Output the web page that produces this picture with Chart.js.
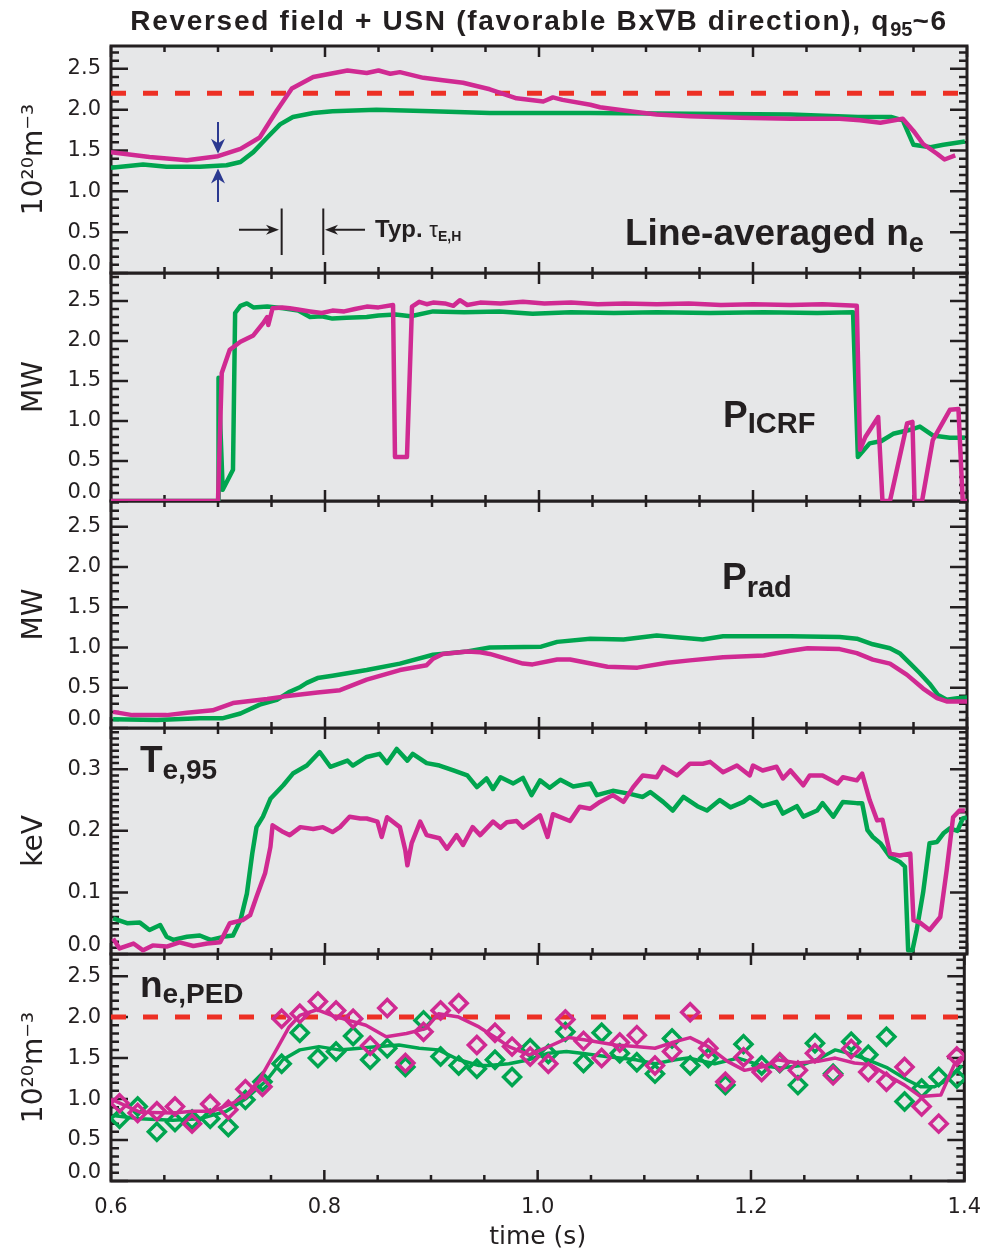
<!DOCTYPE html>
<html>
<head>
<meta charset="utf-8">
<script src="https://cdn.jsdelivr.net/npm/chart.js@4.4.1/dist/chart.umd.min.js"></script>
<style>
  body { margin: 0; background: #fff; }
  #fig { position: relative; width: 995px; height: 1252px; overflow: hidden;
         font-family: 'Liberation Sans', Arial, sans-serif; color: #231f20; }
  #fig canvas { position: absolute; left: 0; }
  .lbl { position: absolute; z-index: 20; font-weight: bold; line-height: 1; white-space: nowrap; }
</style>
</head>
<body>
<div id="fig">
  <div class="lbl" style="left:111px;width:856px;text-align:center;top:7px;font-size:28px;letter-spacing:1.7px">Reversed field + USN (favorable Bx&#8711;B direction), q<sub style="font-size:20px;vertical-align:-6px;letter-spacing:0">95</sub>~6</div>
  <div class="lbl" style="left:625px;top:214px;font-size:37px">Line-averaged n<sub style="font-size:27px;vertical-align:-7px">e</sub></div>
  <div class="lbl" style="left:375px;top:217px;font-size:24px">Typ.&nbsp;<span style="font-weight:normal;font-size:22px">&tau;</span><sub style="font-size:14px;vertical-align:-4px">E,H</sub></div>
  <div class="lbl" style="left:723px;top:396px;font-size:37px">P<sub style="font-size:29px;vertical-align:-6px">ICRF</sub></div>
  <div class="lbl" style="left:722px;top:558px;font-size:37px">P<sub style="font-size:29px;vertical-align:-8px">rad</sub></div>
  <div class="lbl" style="left:140px;top:741px;font-size:37px">T<sub style="font-size:28px;vertical-align:-7px">e,95</sub></div>
  <div class="lbl" style="left:140px;top:966px;font-size:37px">n<sub style="font-size:28px;vertical-align:-6px">e,PED</sub></div>
</div>
<script>
// line-averaged density (1e20 m^-3)
const neTimeGreen = [0.600, 0.630, 0.652, 0.683, 0.708, 0.721, 0.733, 0.746, 0.758, 0.770, 0.789, 0.807, 0.848,
  0.900, 0.954, 1.048, 1.141, 1.235, 1.298, 1.329, 1.340, 1.350, 1.366, 1.378, 1.398];
const neGreen = [1.29, 1.33, 1.30, 1.30, 1.32, 1.36, 1.48, 1.66, 1.82, 1.91, 1.96, 1.98, 2.00,
  1.98, 1.96, 1.96, 1.95, 1.94, 1.91, 1.91, 1.87, 1.57, 1.54, 1.57, 1.61];
const neTimeMagenta = [0.600, 0.636, 0.671, 0.700, 0.721, 0.739, 0.755, 0.769, 0.789, 0.821,
  0.839, 0.850, 0.861, 0.870, 0.892, 0.910, 0.929, 0.954, 0.979, 1.004,
  1.013, 1.022, 1.048, 1.057, 1.085, 1.110, 1.141, 1.188, 1.235, 1.281,
  1.300, 1.319, 1.340, 1.350, 1.359, 1.372, 1.379, 1.389];
const neMagenta = [1.48, 1.42, 1.38, 1.43, 1.52, 1.66, 1.99, 2.26, 2.40, 2.48,
  2.45, 2.48, 2.44, 2.46, 2.39, 2.36, 2.33, 2.25, 2.14, 2.10,
  2.15, 2.12, 2.06, 2.03, 1.98, 1.94, 1.92, 1.90, 1.89, 1.89,
  1.87, 1.84, 1.89, 1.74, 1.58, 1.46, 1.39, 1.44];
const neLimit = 2.2;

// ICRF power (MW)
const icrfTimeGreen = [0.600, 0.700, 0.7005, 0.7044, 0.714, 0.716, 0.721, 0.727, 0.733, 0.746,
  0.761, 0.775, 0.786, 0.797, 0.807, 0.820, 0.839, 0.850, 0.866, 0.880,
  0.901, 0.930, 0.963, 0.994, 1.030, 1.070, 1.110, 1.160, 1.210, 1.260,
  1.2935, 1.298, 1.309, 1.320, 1.331, 1.347, 1.356, 1.368, 1.384, 1.398];
const icrfGreen = [0.00, 0.00, 1.54, 0.14, 0.39, 2.35, 2.44, 2.47, 2.42, 2.43,
  2.41, 2.38, 2.30, 2.31, 2.28, 2.29, 2.30, 2.32, 2.33, 2.31,
  2.37, 2.36, 2.37, 2.34, 2.36, 2.35, 2.36, 2.35, 2.36, 2.35,
  2.36, 0.55, 0.72, 0.75, 0.84, 0.89, 0.93, 0.82, 0.79, 0.79];
const icrfTimeMagenta = [0.600, 0.700, 0.7035, 0.711, 0.721, 0.733, 0.742, 0.746, 0.747, 0.751,
  0.760, 0.767, 0.776, 0.786, 0.797, 0.807, 0.818, 0.828, 0.839, 0.850,
  0.8636, 0.8654, 0.8766, 0.8813, 0.888, 0.895, 0.901, 0.912, 0.920, 0.926,
  0.933, 0.945, 0.964, 0.985, 1.005, 1.030, 1.055, 1.080, 1.110, 1.140,
  1.170, 1.200, 1.235, 1.265, 1.297, 1.300, 1.305, 1.317, 1.321, 1.328,
  1.344, 1.349, 1.351, 1.358, 1.368, 1.384, 1.392, 1.396, 1.400];
const icrfMagenta = [0.00, 0.00, 1.60, 1.89, 1.99, 2.07, 2.22, 2.30, 2.20, 2.41,
  2.42, 2.41, 2.39, 2.37, 2.35, 2.38, 2.37, 2.40, 2.43, 2.42,
  2.45, 0.55, 0.55, 2.43, 2.49, 2.46, 2.48, 2.47, 2.44, 2.51,
  2.45, 2.48, 2.47, 2.49, 2.47, 2.48, 2.46, 2.47, 2.46, 2.47,
  2.45, 2.46, 2.45, 2.46, 2.44, 0.64, 0.80, 1.05, 0.00, 0.00,
  0.97, 0.99, 0.00, 0.00, 0.76, 1.14, 1.15, 0.00, 0.00];

// radiated power (MW)
const pradTimeGreen = [0.602, 0.643, 0.683, 0.704, 0.721, 0.739, 0.755, 0.767, 0.777, 0.783,
  0.793, 0.807, 0.839, 0.870, 0.901, 0.933, 0.954, 1.002, 1.017, 1.048,
  1.079, 1.110, 1.153, 1.172, 1.235, 1.281, 1.297, 1.312, 1.328, 1.337,
  1.347, 1.356, 1.365, 1.373, 1.381, 1.391, 1.400];
const pradGreen = [0.11, 0.10, 0.12, 0.12, 0.18, 0.29, 0.35, 0.45, 0.51, 0.56,
  0.62, 0.65, 0.72, 0.80, 0.91, 0.95, 1.00, 1.01, 1.07, 1.11,
  1.10, 1.15, 1.10, 1.14, 1.14, 1.13, 1.11, 1.04, 0.99, 0.93,
  0.80, 0.68, 0.55, 0.41, 0.35, 0.37, 0.38];
const pradTimeMagenta = [0.602, 0.620, 0.652, 0.671, 0.695, 0.714, 0.746, 0.761, 0.793, 0.814,
  0.839, 0.870, 0.895, 0.901, 0.910, 0.933, 0.945, 0.954, 0.985, 0.994,
  1.017, 1.029, 1.064, 1.092, 1.120, 1.141, 1.172, 1.210, 1.235, 1.251,
  1.281, 1.297, 1.312, 1.328, 1.344, 1.359, 1.372, 1.381, 1.400];
const pradMagenta = [0.20, 0.16, 0.16, 0.19, 0.22, 0.31, 0.36, 0.39, 0.44, 0.47,
  0.60, 0.72, 0.78, 0.86, 0.92, 0.95, 0.94, 0.92, 0.80, 0.79,
  0.85, 0.85, 0.76, 0.75, 0.81, 0.84, 0.88, 0.90, 0.96, 0.99,
  0.98, 0.93, 0.85, 0.80, 0.66, 0.49, 0.37, 0.33, 0.33];

// electron temperature at psi_95 (keV)
const teTimeGreen = [0.602, 0.615, 0.627, 0.636, 0.646, 0.652, 0.658, 0.671, 0.683, 0.693,
  0.708, 0.714, 0.721, 0.727, 0.732, 0.736, 0.742, 0.749, 0.761, 0.770,
  0.783, 0.795, 0.805, 0.821, 0.826, 0.839, 0.851, 0.858, 0.867, 0.877,
  0.882, 0.895, 0.907, 0.920, 0.933, 0.942, 0.951, 0.957, 0.964, 0.976,
  0.985, 0.993, 1.001, 1.010, 1.020, 1.032, 1.048, 1.054, 1.069, 1.085,
  1.097, 1.104, 1.116, 1.125, 1.135, 1.148, 1.157, 1.169, 1.179, 1.191,
  1.197, 1.209, 1.222, 1.228, 1.241, 1.247, 1.260, 1.265, 1.275, 1.284,
  1.297, 1.302, 1.307, 1.312, 1.319, 1.328, 1.337, 1.342, 1.345, 1.349,
  1.353, 1.359, 1.365, 1.372, 1.378, 1.384, 1.391, 1.396, 1.400];
const teGreen = [0.058, 0.050, 0.051, 0.039, 0.047, 0.028, 0.023, 0.028, 0.030, 0.023,
  0.029, 0.030, 0.055, 0.098, 0.163, 0.206, 0.223, 0.252, 0.274, 0.293,
  0.306, 0.328, 0.304, 0.314, 0.306, 0.320, 0.325, 0.310, 0.333, 0.314,
  0.325, 0.310, 0.306, 0.298, 0.290, 0.271, 0.285, 0.268, 0.287, 0.277,
  0.286, 0.258, 0.282, 0.270, 0.283, 0.272, 0.277, 0.258, 0.265, 0.260,
  0.255, 0.263, 0.247, 0.233, 0.255, 0.240, 0.233, 0.250, 0.238, 0.247,
  0.255, 0.240, 0.247, 0.228, 0.240, 0.223, 0.233, 0.245, 0.223, 0.247,
  0.245, 0.245, 0.201, 0.190, 0.180, 0.158, 0.150, 0.142, 0.006, 0.006,
  0.039, 0.100, 0.180, 0.182, 0.196, 0.204, 0.200, 0.220, 0.222];
const teTimeMagenta = [0.602, 0.608, 0.621, 0.630, 0.639, 0.652, 0.664, 0.677, 0.690, 0.702,
  0.711, 0.723, 0.730, 0.736, 0.744, 0.749, 0.751, 0.761, 0.767, 0.777,
  0.789, 0.798, 0.807, 0.814, 0.823, 0.833, 0.839, 0.849, 0.853, 0.858,
  0.870, 0.875, 0.877, 0.881, 0.889, 0.895, 0.907, 0.914, 0.923, 0.929,
  0.938, 0.945, 0.957, 0.964, 0.970, 0.979, 0.985, 1.001, 1.008, 1.013,
  1.029, 1.038, 1.048, 1.057, 1.069, 1.079, 1.088, 1.097, 1.110, 1.116,
  1.129, 1.141, 1.153, 1.160, 1.172, 1.185, 1.197, 1.200, 1.209, 1.222,
  1.228, 1.235, 1.247, 1.253, 1.265, 1.279, 1.284, 1.297, 1.302, 1.309,
  1.316, 1.321, 1.328, 1.337, 1.347, 1.350, 1.356, 1.365, 1.375, 1.381,
  1.387, 1.393, 1.398];
const teMagenta = [0.025, 0.009, 0.017, 0.006, 0.014, 0.012, 0.019, 0.013, 0.017, 0.019,
  0.050, 0.055, 0.063, 0.093, 0.131, 0.174, 0.209, 0.198, 0.193, 0.206,
  0.203, 0.206, 0.198, 0.206, 0.223, 0.220, 0.220, 0.215, 0.190, 0.222,
  0.206, 0.169, 0.144, 0.180, 0.215, 0.193, 0.188, 0.171, 0.193, 0.177,
  0.206, 0.193, 0.215, 0.205, 0.214, 0.216, 0.205, 0.225, 0.190, 0.227,
  0.216, 0.239, 0.236, 0.247, 0.258, 0.247, 0.271, 0.290, 0.287, 0.304,
  0.290, 0.309, 0.309, 0.312, 0.295, 0.306, 0.290, 0.306, 0.298, 0.304,
  0.285, 0.298, 0.274, 0.290, 0.290, 0.277, 0.287, 0.282, 0.293, 0.250,
  0.217, 0.218, 0.163, 0.160, 0.163, 0.055, 0.051, 0.039, 0.060, 0.136,
  0.222, 0.233, 0.233];

// pedestal density (1e20 m^-3): Thomson points and smoothed fits
const pedTime = [0.608, 0.625, 0.643, 0.660, 0.676, 0.693, 0.710, 0.726, 0.742, 0.760,
  0.777, 0.794, 0.811, 0.827, 0.843, 0.859, 0.876, 0.893, 0.909, 0.926,
  0.943, 0.960, 0.976, 0.993, 1.010, 1.026, 1.043, 1.060, 1.077, 1.093,
  1.110, 1.126, 1.143, 1.160, 1.176, 1.193, 1.210, 1.227, 1.244, 1.260,
  1.277, 1.294, 1.310, 1.327, 1.344, 1.360, 1.376, 1.393];
const pedGreen = [0.76, 0.91, 0.60, 0.72, 0.75, 0.76, 0.66, 0.99, 1.21, 1.43,
  1.81, 1.50, 1.58, 1.77, 1.48, 1.62, 1.39, 1.96, 1.52, 1.41,
  1.37, 1.48, 1.27, 1.62, 1.55, 1.82, 1.44, 1.81, 1.56, 1.45,
  1.31, 1.74, 1.41, 1.50, 1.17, 1.67, 1.41, 1.44, 1.17, 1.68,
  1.31, 1.70, 1.54, 1.76, 0.97, 1.13, 1.27, 1.25];
const pedMagenta = [0.95, 0.83, 0.85, 0.91, 0.70, 0.94, 0.87, 1.12, 1.15, 1.98,
  2.04, 2.19, 2.08, 1.98, 1.65, 2.11, 1.44, 1.82, 2.08, 2.17,
  1.66, 1.81, 1.64, 1.52, 1.43, 1.97, 1.71, 1.50, 1.69, 1.78,
  1.41, 1.58, 2.06, 1.62, 1.21, 1.51, 1.33, 1.45, 1.35, 1.56,
  1.29, 1.61, 1.33, 1.21, 1.39, 0.91, 0.70, 1.52];
const pedFitTimeGreen = [0.602, 0.627, 0.658, 0.683, 0.708, 0.727, 0.746, 0.761, 0.777, 0.795,
  0.814, 0.833, 0.851, 0.870, 0.889, 0.907, 0.926, 0.945, 0.954, 0.973,
  0.992, 1.010, 1.027, 1.041, 1.064, 1.092, 1.110, 1.129, 1.141, 1.166,
  1.188, 1.209, 1.228, 1.247, 1.265, 1.279, 1.291, 1.309, 1.328, 1.347,
  1.359, 1.372, 1.384, 1.398];
const pedFitGreen = [0.80, 0.76, 0.74, 0.76, 0.85, 1.01, 1.23, 1.48, 1.60, 1.64,
  1.60, 1.62, 1.64, 1.66, 1.62, 1.60, 1.48, 1.41, 1.41, 1.43,
  1.48, 1.56, 1.58, 1.56, 1.52, 1.48, 1.43, 1.48, 1.50, 1.43,
  1.50, 1.41, 1.38, 1.41, 1.50, 1.60, 1.56, 1.48, 1.38, 1.23,
  1.15, 1.15, 1.23, 1.41];
const pedFitTimeMagenta = [0.600, 0.627, 0.658, 0.677, 0.695, 0.714, 0.727, 0.739, 0.755, 0.767,
  0.777, 0.793, 0.807, 0.823, 0.839, 0.858, 0.877, 0.895, 0.907, 0.926,
  0.945, 0.964, 0.973, 0.992, 1.007, 1.029, 1.045, 1.073, 1.092, 1.110,
  1.129, 1.143, 1.160, 1.178, 1.194, 1.213, 1.225, 1.244, 1.263, 1.279,
  1.297, 1.312, 1.328, 1.344, 1.359, 1.378, 1.391, 1.398];
const pedFitMagenta = [1.00, 0.84, 0.83, 0.85, 0.85, 0.95, 1.05, 1.23, 1.60, 1.88,
  2.02, 2.09, 2.02, 1.96, 1.90, 1.76, 1.80, 1.86, 2.04, 2.00,
  1.88, 1.72, 1.64, 1.54, 1.62, 1.75, 1.72, 1.66, 1.64, 1.62,
  1.70, 1.75, 1.64, 1.46, 1.35, 1.40, 1.48, 1.44, 1.46, 1.50,
  1.44, 1.42, 1.29, 1.17, 1.03, 1.05, 1.43, 1.52];
const pedLimit = 2.0;

const GREEN = '#00a54f';
const MAGENTA = '#d02a92';
const RED = '#ed3024';
const BLUE = '#2b3990';
const INK = '#231f20';
const PLOT_BG = '#e6e7e8';
const TICK_FONT = "'DejaVu Sans', sans-serif";
const PAD = 32;

const pts = (t, v) => t.map((x, i) => ({x, y: v[i]}));

function trace(t, v, color, width = 4.5) {
  return {data: pts(t, v), borderColor: color, borderWidth: width, pointRadius: 0, fill: false};
}

function level(value) {
  return {data: [{x: 0.6, y: value}, {x: 1.4, y: value}], borderColor: RED, borderWidth: 5,
    borderDash: [15, 17], pointRadius: 0, fill: false};
}

function diamonds(t, v, color) {
  return {data: pts(t, v), showLine: false, pointStyle: 'rectRot', pointRadius: 8.5,
    pointBorderWidth: 3.5, pointBorderColor: color, pointBackgroundColor: 'rgba(0,0,0,0)',
    borderColor: color};
}

function arrow(ctx, x1, y1, x2, y2, len, half) {
  const a = Math.atan2(y2 - y1, x2 - x1), c = Math.cos(a), s = Math.sin(a);
  ctx.beginPath();
  ctx.moveTo(x1, y1);
  ctx.lineTo(x2 - c * len * 0.6, y2 - s * len * 0.6);
  ctx.stroke();
  ctx.beginPath();
  ctx.moveTo(x2, y2);
  ctx.lineTo(x2 - c * len + s * half, y2 - s * len - c * half);
  ctx.lineTo(x2 - c * len * 0.7, y2 - s * len * 0.7);
  ctx.lineTo(x2 - c * len - s * half, y2 - s * len + c * half);
  ctx.closePath();
  ctx.fill();
}

// grey panel, heavy frame and inward ticks on all four sides
const frameTicks = {
  id: 'frameTicks',
  beforeDraw(chart) {
    const {ctx, chartArea: a} = chart;
    ctx.save();
    ctx.fillStyle = PLOT_BG;
    ctx.fillRect(a.left, a.top, a.width, a.height);
    ctx.restore();
  },
  beforeDatasetsDraw(chart, args, opts) {
    const {ctx, chartArea: a, scales: {x, y}} = chart;
    ctx.save();
    ctx.strokeStyle = INK;
    ctx.lineWidth = 2.5;
    ctx.beginPath();
    for (let i = 0; i <= 16; i++) {
      const px = x.getPixelForValue(0.6 + i * 0.05);
      const len = i % 4 === 0 ? 11 : 6;
      ctx.moveTo(px, a.top); ctx.lineTo(px, a.top + len);
      ctx.moveTo(px, a.bottom); ctx.lineTo(px, a.bottom - len);
    }
    const n = Math.floor(y.max / opts.minor + 1e-6);
    for (let i = 0; i <= n; i++) {
      const v = i * opts.minor;
      const py = y.getPixelForValue(v);
      const r = v / opts.major;
      const len = Math.abs(r - Math.round(r)) < 1e-6 ? 17 : 8;
      ctx.moveTo(a.left, py); ctx.lineTo(a.left + len, py);
      ctx.moveTo(a.right, py); ctx.lineTo(a.right - len, py);
    }
    ctx.stroke();
    ctx.lineWidth = 3;
    ctx.strokeRect(a.left, a.top, a.width, a.height);
    ctx.restore();
  },
  afterDatasetsDraw(chart, args, opts) {
    const m = opts.marks;
    if (!m) return;
    const {ctx, scales: {x, y}} = chart;
    ctx.save();
    // blue arrows pinning the L-mode density gap
    ctx.strokeStyle = BLUE; ctx.fillStyle = BLUE; ctx.lineWidth = 2;
    const bx = x.getPixelForValue(m.gapAt);
    arrow(ctx, bx, y.getPixelForValue(m.gapDown[0]), bx, y.getPixelForValue(m.gapDown[1]), 15, 7);
    arrow(ctx, bx, y.getPixelForValue(m.gapUp[0]), bx, y.getPixelForValue(m.gapUp[1]), 15, 7);
    // confinement-time bracket
    ctx.strokeStyle = INK; ctx.fillStyle = INK; ctx.lineWidth = 2;
    const ay = y.getPixelForValue(m.tauArrowY);
    ctx.beginPath();
    m.tauMarks.forEach(t => {
      const px = x.getPixelForValue(t);
      ctx.moveTo(px, y.getPixelForValue(m.tauSpan[0]));
      ctx.lineTo(px, y.getPixelForValue(m.tauSpan[1]));
    });
    ctx.stroke();
    arrow(ctx, x.getPixelForValue(m.tauRight[0]), ay, x.getPixelForValue(m.tauRight[1]), ay, 13, 5);
    arrow(ctx, x.getPixelForValue(m.tauLeft[0]), ay, x.getPixelForValue(m.tauLeft[1]), ay, 13, 5);
    ctx.restore();
  }
};

function yAxis(max, step, title) {
  return {
    type: 'linear', min: 0, max, bounds: 'data',
    grid: {display: false, drawTicks: false}, border: {display: false},
    ticks: {
      stepSize: step, includeBounds: false, autoSkip: false, padding: 10, color: INK,
      font: c => ({family: TICK_FONT, size: 21, lineHeight: c.tick && c.tick.value === 0 ? 0.76 : 1.2}),
      callback: v => v === 0 ? ['0.0', ''] : v.toFixed(1)
    },
    title: {display: true, text: title, color: INK, font: {family: TICK_FONT, size: 28},
      padding: {top: 18, bottom: 0}},
    afterFit: s => { s.width = 111; }
  };
}

function xAxis(show) {
  const axis = {
    type: 'linear', min: 0.6, max: 1.4, bounds: 'data', display: show,
    grid: {display: false, drawTicks: false}, border: {display: false},
    ticks: {stepSize: 0.2, autoSkip: false, maxRotation: 0, padding: 14, color: INK,
      font: {family: TICK_FONT, size: 21}, callback: v => v.toFixed(1)},
    title: {display: show, text: 'time (s)', color: INK, font: {family: TICK_FONT, size: 25},
      padding: {top: 0, bottom: 0}}
  };
  if (show) axis.afterFit = s => { s.height = 71; };
  return axis;
}

const fig = document.getElementById('fig');
let panelCount = 0;

function makePanel(top, bottom, datasets, y, tickOpts, last) {
  const canvas = document.createElement('canvas');
  const canvasTop = top - PAD;
  const height = last ? 1252 - canvasTop : bottom - top + 2 * PAD;
  canvas.width = 995;
  canvas.height = height;
  canvas.style.top = canvasTop + 'px';
  // upper panels sit above lower ones so traces on a shared edge stay visible
  canvas.style.zIndex = 10 - panelCount++;
  fig.appendChild(canvas);
  return new Chart(canvas, {
    type: 'line',
    data: {datasets},
    options: {
      responsive: false,
      animation: false,
      events: [],
      layout: {padding: {top: PAD, bottom: last ? 0 : PAD, left: 0, right: 28}},
      scales: {x: xAxis(last), y},
      elements: {line: {tension: 0, borderJoinStyle: 'round'}},
      plugins: {legend: {display: false}, tooltip: {enabled: false}, frameTicks: tickOpts}
    },
    plugins: [frameTicks]
  });
}

const DENSITY = '10\u00b2\u2070m\u207b\u00b3';

makePanel(46, 273, [
  trace(neTimeMagenta, neMagenta, MAGENTA),
  trace(neTimeGreen, neGreen, GREEN),
  level(neLimit)
], yAxis(2.78, 0.5, DENSITY), {
  major: 0.5, minor: 0.1,
  marks: {
    gapAt: 0.70, gapDown: [1.85, 1.46], gapUp: [0.87, 1.28],
    tauMarks: [0.7595, 0.7984], tauSpan: [0.22, 0.79], tauArrowY: 0.53,
    tauRight: [0.7196, 0.757], tauLeft: [0.8374, 0.800]
  }
}, false);

makePanel(273, 501, [
  trace(icrfTimeMagenta, icrfMagenta, MAGENTA),
  trace(icrfTimeGreen, icrfGreen, GREEN)
], yAxis(2.85, 0.5, 'MW'), {major: 0.5, minor: 0.1}, false);

makePanel(501, 728, [
  trace(pradTimeMagenta, pradMagenta, MAGENTA),
  trace(pradTimeGreen, pradGreen, GREEN)
], yAxis(2.82, 0.5, 'MW'), {major: 0.5, minor: 0.1}, false);

makePanel(728, 954, [
  trace(teTimeMagenta, teMagenta, MAGENTA),
  trace(teTimeGreen, teGreen, GREEN)
], yAxis(0.367, 0.1, 'keV'), {major: 0.1, minor: 0.01}, false);

makePanel(954, 1181, [
  trace(pedFitTimeMagenta, pedFitMagenta, MAGENTA, 3.5),
  diamonds(pedTime, pedMagenta, MAGENTA),
  trace(pedFitTimeGreen, pedFitGreen, GREEN, 3.5),
  diamonds(pedTime, pedGreen, GREEN),
  level(pedLimit)
], yAxis(2.77, 0.5, DENSITY), {major: 0.5, minor: 0.1}, true);
</script>
</body>
</html>
